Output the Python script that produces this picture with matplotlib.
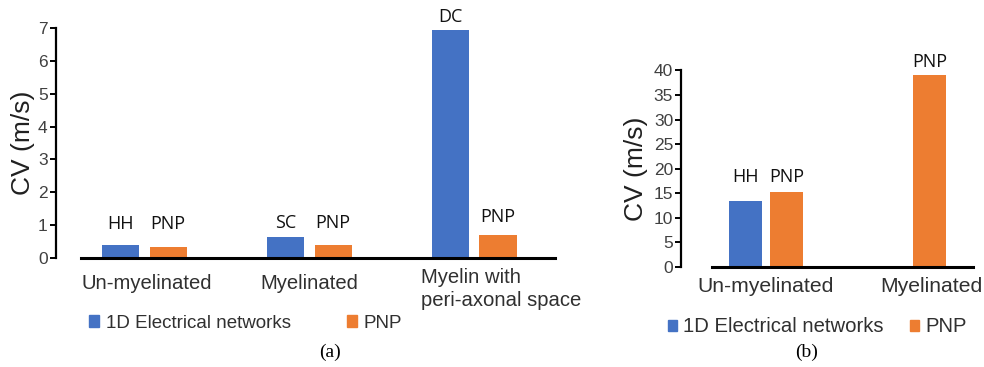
import matplotlib
matplotlib.use("Agg")
import matplotlib.pyplot as plt
from matplotlib.patches import Patch
from matplotlib.transforms import offset_copy

plt.rcParams['font.family'] = ['Liberation Sans', 'DejaVu Sans']

blue = '#4472C4'
orange = '#ED7D31'

# (a) conduction velocity, three fibre types
cats_a = ['Un-myelinated', 'Myelinated', 'Myelin with\nperi-axonal space']
net_a = [0.40, 0.65, 6.94]
pnp_a = [0.34, 0.40, 0.71]
net_names_a = ['HH', 'SC', 'DC']
pnp_names_a = ['PNP', 'PNP', 'PNP']

# (b) conduction velocity, two fibre types
cats_b = ['Un-myelinated', 'Myelinated']
net_b = [13.5, None]
pnp_b = [15.3, 39.0]
net_names_b = ['HH', '']
pnp_names_b = ['PNP', 'PNP']

W, H = 984, 367
fig = plt.figure(figsize=(W / 100, H / 100), dpi=100)


def px_axes(x0, y0, x1, y1):
    # axes rectangle from pixel corners (top-left origin)
    return fig.add_axes([x0 / W, 1 - y1 / H, (x1 - x0) / W, (y1 - y0) / H])


def style(ax, ylim, yticks, outward, labelpad):
    ax.set_ylim(*ylim)
    ax.set_yticks(yticks)
    for s in ['top', 'right']:
        ax.spines[s].set_visible(False)
    ax.spines['left'].set_position(('outward', outward))
    ax.spines['left'].set_linewidth(1.6)
    ax.spines['bottom'].set_linewidth(2.2)
    ax.tick_params(axis='y', length=4, width=1.4, pad=2, labelsize=12.5,
                   labelcolor='#404040')
    ax.tick_params(axis='x', length=0, labelbottom=False)
    ax.set_ylabel('CV (m/s)', fontsize=19, color='#202020', labelpad=labelpad)


def labels(ax, xs, vals, names, offs):
    for x, v, n, o in zip(xs, vals, names, offs):
        if v is None or not n:
            continue
        tr = offset_copy(ax.transData, fig=fig, x=0, y=o * 0.72, units='points')
        ax.text(x, v, n, transform=tr, ha='center', va='center',
                fontsize=13, family='Open Sans', color='#111111')


# ---- panel (a)
ax = px_axes(81, 28, 555, 258)
bw, off = 0.225, 0.144
xa = list(range(len(cats_a)))
ax.bar([x - off for x in xa], net_a, bw, color=blue)
ax.bar([x + off for x in xa], pnp_a, bw, color=orange)
ax.set_xlim(-0.385, 2.49)
style(ax, (0, 7), range(0, 8), 18, 2)
labels(ax, [x - off for x in xa], net_a, net_names_a, [21, 13.5, 13])
labels(ax, [x + off for x in xa], pnp_a, pnp_names_a, [23, 21.7, 17.4])
cat_x_a = [0.015, 1.0, 2.165]
cat_y_a = [-0.111, -0.111, -0.135]
for x, y, c in zip(cat_x_a, cat_y_a, cats_a):
    ax.text(x, y, c, transform=ax.get_xaxis_transform(), ha='center',
            va='center', fontsize=14.6, color='#303030', linespacing=1.25,
            multialignment='left')

fig.legend(handles=[Patch(color=blue, label='1D Electrical networks'),
                    Patch(color=orange, label='PNP')],
           loc='center left', bbox_to_anchor=(89 / W, 1 - 323 / H), ncol=2,
           frameon=False, fontsize=13.5, handlelength=0.55, handleheight=0.55,
           handletextpad=0.33, columnspacing=3.0, borderpad=0,
           borderaxespad=0, labelcolor='#303030')

# ---- panel (b)
bx = px_axes(712, 70.5, 973, 267)
bw_b, off_b = 0.23, 0.143
xb = list(range(len(cats_b)))
bx.bar([x - off_b for x, v in zip(xb, net_b) if v is not None],
       [v for v in net_b if v is not None], bw_b, color=blue)
bx.bar([x + off_b for x in xb], pnp_b, bw_b, color=orange)
bx.set_xlim(-0.378, 1.448)
style(bx, (0, 40), range(0, 41, 5), 22, 4)
labels(bx, [x - off_b for x in xb], net_b, net_names_b, [24, 0])
labels(bx, [x + off_b for x in xb], pnp_b, pnp_names_b, [15.3, 13])
cat_x_b = [0.0, 1.154]
for x, c in zip(cat_x_b, cats_b):
    bx.text(x, -0.10, c, transform=bx.get_xaxis_transform(), ha='center',
            va='center', fontsize=15.2, color='#303030')

fig.legend(handles=[Patch(color=blue, label='1D Electrical networks'),
                    Patch(color=orange, label='PNP')],
           loc='center left', bbox_to_anchor=(668 / W, 1 - 327 / H), ncol=2,
           frameon=False, fontsize=14.6, handlelength=0.45, handleheight=0.45,
           handletextpad=0.3, columnspacing=1.3, borderpad=0,
           borderaxespad=0, labelcolor='#303030')

# captions
fig.text(330 / W, 1 - 352 / H, '(a)', ha='center', va='center',
         family='Liberation Serif', fontsize=14)
fig.text(807 / W, 1 - 352 / H, '(b)', ha='center', va='center',
         family='Liberation Serif', fontsize=14)

fig.savefig('out.png', dpi=100)
